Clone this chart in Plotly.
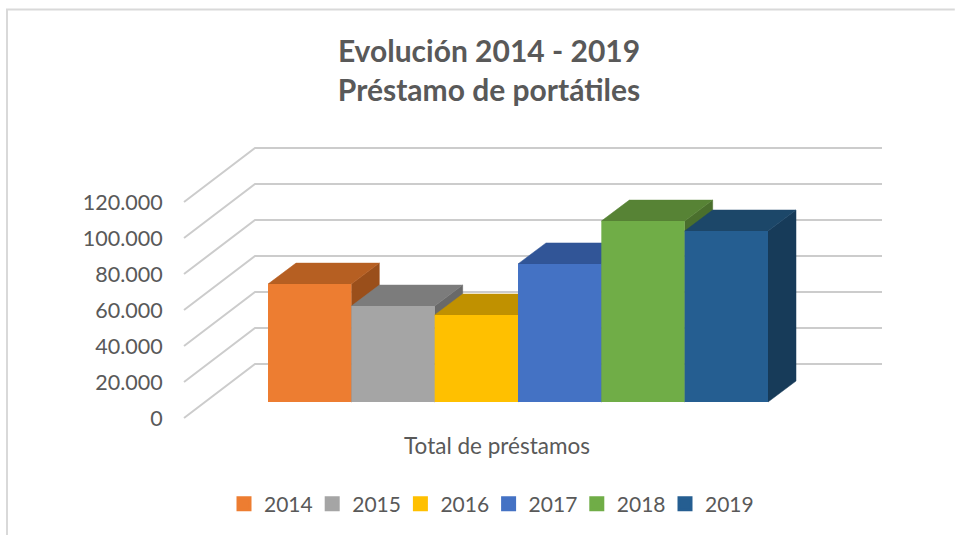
import plotly.graph_objects as go

years = ["2014", "2015", "2016", "2017", "2018", "2019"]
values = [65500, 53300, 48300, 76700, 100500, 95000]
front_colors = ["#ED7D31", "#A5A5A5", "#FFC000", "#4472C4", "#70AD47", "#255E91"]
top_colors = ["#B65F22", "#7C7C7C", "#C09100", "#315597", "#578335", "#1C4769"]
side_colors = ["#9A4F1B", "#696969", "#A37B00", "#2A487F", "#4A6F2D", "#173B59"]
grid_values = [0, 20000, 40000, 60000, 80000, 100000, 120000]
grid_labels = ["0", "20.000", "40.000", "60.000", "80.000", "100.000", "120.000"]
category_label = "Total de préstamos"
title_text = "Evolución 2014 - 2019<br>Préstamo de portátiles"

# oblique projection, in axis units (one x unit = one bar slot)
BAR_DX, BAR_DY = 0.336, 11667
FLOOR_FRONT_X, FLOOR_FRONT_DY = -1.008, -8889
FLOOR_BACK_X, FLOOR_BACK_DY = -0.156, 21111
WALL_END_X = 7.368
GRID_COLOR = "#CCCCCC"
TEXT_COLOR = "#595959"
FONT = "Lato"

fig = go.Figure()

for g in grid_values:
    fig.add_trace(go.Scatter(
        x=[FLOOR_FRONT_X, FLOOR_BACK_X, WALL_END_X],
        y=[g + FLOOR_FRONT_DY, g + FLOOR_BACK_DY, g + FLOOR_BACK_DY],
        mode="lines", line=dict(color=GRID_COLOR, width=2),
        showlegend=False, hoverinfo="skip", zorder=0))

for i, (year, v) in enumerate(zip(years, values)):
    z = 2 * i + 1
    # side face
    fig.add_trace(go.Scatter(
        x=[i + 1, i + 1 + BAR_DX, i + 1 + BAR_DX, i + 1, i + 1],
        y=[0, BAR_DY, v + BAR_DY, v, 0],
        mode="lines", fill="toself", fillcolor=side_colors[i],
        line=dict(color=side_colors[i], width=0.5),
        showlegend=False, hoverinfo="skip", zorder=z))
    # top face
    fig.add_trace(go.Scatter(
        x=[i, i + BAR_DX, i + 1 + BAR_DX, i + 1, i],
        y=[v, v + BAR_DY, v + BAR_DY, v, v],
        mode="lines", fill="toself", fillcolor=top_colors[i],
        line=dict(color=top_colors[i], width=0.5),
        showlegend=False, hoverinfo="skip", zorder=z))
    # front face
    fig.add_trace(go.Bar(
        x=[i + 0.5], y=[v], width=1, name=year, legendgroup=year, showlegend=False,
        marker=dict(color=front_colors[i], line=dict(width=0)),
        zorder=z + 1))
    # legend entry with the larger square swatch
    fig.add_trace(go.Bar(
        x=[None], y=[None], name=year, legendgroup=year, showlegend=True,
        marker=dict(color=front_colors[i], line=dict(color=front_colors[i], width=3))))

fig.update_layout(
    width=955, height=535,
    margin=dict(l=170, r=65, t=130, b=105, autoexpand=False),
    paper_bgcolor="white", plot_bgcolor="white",
    barmode="overlay",
    font=dict(family=FONT, color=TEXT_COLOR, size=20),
    title=dict(text=title_text, x=489 / 955, xanchor="center", y=1 - 62 / 535, yanchor="middle",
               font=dict(family=FONT, size=30, color=TEXT_COLOR, weight="bold")),
    legend=dict(orientation="h", x=489 / 955, xref="container", xanchor="center",
                y=1 - 504 / 535, yref="container", yanchor="middle",
                font=dict(family=FONT, size=21, color=TEXT_COLOR),
                traceorder="normal", entrywidth=43.2, entrywidthmode="pixels"),
    shapes=[dict(type="path", xref="paper", yref="paper",
                 path="M -0.2264,-0.3500 L -0.2264,1.4017 L 1.0900,1.4017",
                 line=dict(color="#D9D9D9", width=2))],
)
fig.update_xaxes(range=[-1.176, 7.464], showgrid=False, zeroline=False, showline=False,
                 tickvals=[2.748], ticktext=[category_label], ticks="",
                 tickfont=dict(family=FONT, size=22.5, color=TEXT_COLOR))
fig.update_yaxes(range=[-15556, 151111], showgrid=False, zeroline=False, showline=False,
                 tickvals=[g + FLOOR_FRONT_DY for g in grid_values], ticktext=grid_labels,
                 ticks="outside", ticklen=2, tickcolor="rgba(0,0,0,0)",
                 tickfont=dict(family=FONT, size=21.5, color=TEXT_COLOR))

fig.write_html("out.html", config=dict(displayModeBar=False),
               post_script="document.body.style.margin='0';")
